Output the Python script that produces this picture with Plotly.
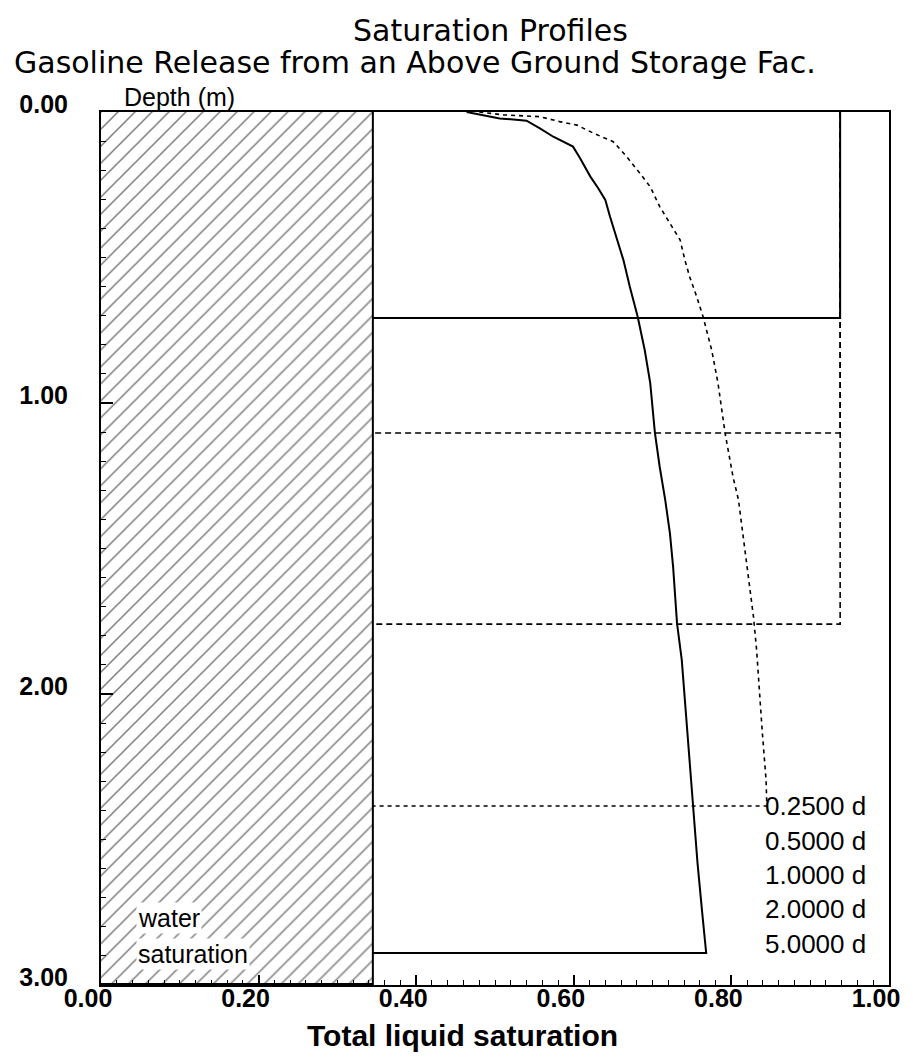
import plotly.graph_objects as go

# ---- data ----
water_saturation = 0.345
max_depth = 3.0
time_labels = ["0.2500 d", "0.5000 d", "1.0000 d", "2.0000 d", "5.0000 d"]

# early profiles: saturated plateau down to the wetting front
plateau_sat = 0.938
front_025 = 0.708
front_050 = 1.103
front_100 = 1.760

# 2.0 d profile (drainage curve)
t2_sat = [0.480, 0.511, 0.557, 0.582, 0.604, 0.625, 0.650, 0.667, 0.684, 0.697,
          0.709, 0.722, 0.735, 0.741, 0.747, 0.756, 0.764, 0.775, 0.783, 0.792,
          0.802, 0.809, 0.815, 0.821, 0.828, 0.832, 0.836, 0.839, 0.844, 0.845]
t2_depth = [0.000, 0.010, 0.016, 0.033, 0.045, 0.073, 0.102, 0.153, 0.211, 0.257,
            0.325, 0.383, 0.440, 0.509, 0.566, 0.635, 0.703, 0.818, 0.932, 1.104,
            1.253, 1.333, 1.459, 1.597, 1.734, 1.849, 2.021, 2.124, 2.296, 2.385]

# 5.0 d profile (drainage curve)
t5_sat = [0.464, 0.485, 0.506, 0.540, 0.557, 0.574, 0.599, 0.608, 0.621, 0.631,
          0.640, 0.646, 0.654, 0.663, 0.671, 0.681, 0.690, 0.697, 0.703, 0.709,
          0.716, 0.722, 0.726, 0.731, 0.737, 0.741, 0.745, 0.751, 0.757, 0.763, 0.768]
t5_depth = [0.000, 0.010, 0.022, 0.030, 0.056, 0.085, 0.119, 0.159, 0.222, 0.262,
            0.302, 0.360, 0.428, 0.509, 0.600, 0.703, 0.818, 0.932, 1.104, 1.219,
            1.333, 1.448, 1.562, 1.757, 1.883, 2.021, 2.181, 2.387, 2.581, 2.753, 2.890]

x_ticks = [0.0, 0.2, 0.4, 0.6, 0.8, 1.0]
x_ticktext = ["0.00", "0.20", "0.40", "0.60", "0.80", "1.00"]
y_ticks = [0.0, 1.0, 2.0, 3.0]
y_ticktext = ["0.00", "1.00", "2.00", "3.00"]

# plot-area geometry in page pixels (the page body adds an 8 px margin)
OFF = 8
L, R, T, B = 101, 889, 112, 985
W, H = 913, 1057

fig = go.Figure()

# hatched water saturation region
fig.add_trace(go.Scatter(
    x=[0, water_saturation, water_saturation, 0, 0],
    y=[0, 0, max_depth, max_depth, 0],
    mode="lines", fill="toself",
    line=dict(color="black", width=0),
    fillcolor="white",
    fillpattern=dict(shape="/", size=12, solidity=0.13, fgcolor="black", bgcolor="white"),
    hoverinfo="skip", showlegend=False))
fig.add_trace(go.Scatter(
    x=[water_saturation, water_saturation], y=[0, max_depth],
    mode="lines", line=dict(color="black", width=2), showlegend=False, hoverinfo="skip"))
fig.add_trace(go.Scatter(
    x=[0, water_saturation], y=[max_depth, max_depth],
    mode="lines", line=dict(color="black", width=4), showlegend=False, hoverinfo="skip"))


def profile(xs, ys):
    return list(xs) + [water_saturation], list(ys) + [ys[-1]]


# 1.0 d
x, y = profile([plateau_sat, plateau_sat], [0, front_100])
fig.add_trace(go.Scatter(x=x, y=y, mode="lines", name=time_labels[2],
                         line=dict(color="black", width=1.6, dash="6px,4px")))
# 0.5 d
x, y = profile([plateau_sat, plateau_sat], [0, front_050])
fig.add_trace(go.Scatter(x=x, y=y, mode="lines", name=time_labels[1],
                         line=dict(color="black", width=1.6, dash="6px,4px")))
# 2.0 d
x, y = profile(t2_sat, t2_depth)
fig.add_trace(go.Scatter(x=x, y=y, mode="lines", name=time_labels[3],
                         line=dict(color="black", width=1.6, dash="4px,4px")))
# 0.25 d
x, y = profile([plateau_sat, plateau_sat], [0, front_025])
fig.add_trace(go.Scatter(x=x, y=y, mode="lines", name=time_labels[0],
                         line=dict(color="black", width=2)))
# 5.0 d
x, y = profile(t5_sat, t5_depth)
fig.add_trace(go.Scatter(x=x, y=y, mode="lines", name=time_labels[4],
                         line=dict(color="black", width=2)))

# time labels (legend without line samples)
label_x = 0.844
label_y0 = 2.385
label_step = 0.1185
for i, lab in enumerate(time_labels):
    fig.add_annotation(x=label_x, y=label_y0 + i * label_step, text=lab,
                       showarrow=False, xanchor="left", yanchor="middle",
                       font=dict(family="Liberation Sans, Arial", size=26, color="black"),
                       xshift=-3)

# water saturation text
fig.add_annotation(x=0.045, y=2.77, text="water", showarrow=False, xanchor="left",
                   yanchor="middle", bgcolor="white", borderpad=1,
                   font=dict(family="Liberation Sans, Arial", size=25, color="black"))
fig.add_annotation(x=0.045, y=2.893, text="saturation", showarrow=False, xanchor="left",
                   yanchor="middle", bgcolor="white", borderpad=1,
                   font=dict(family="Liberation Sans, Arial", size=25, color="black"))

# titles
title_font = dict(family="DejaVu Sans", size=30, color="black")
fig.add_annotation(xref="paper", yref="paper", x=(490 - L) / (R - L), y=1,
                   yshift=T - 30, text="Saturation Profiles", showarrow=False,
                   xanchor="center", yanchor="middle", font=title_font)
fig.add_annotation(xref="paper", yref="paper", x=(415 - L) / (R - L), y=1,
                   yshift=T - 62, text="Gasoline Release from an Above Ground Storage Fac.",
                   showarrow=False, xanchor="center", yanchor="middle", font=title_font)
fig.add_annotation(xref="paper", yref="paper", x=(122 - L) / (R - L), y=1,
                   yshift=T - 97, text="Depth (m)", showarrow=False,
                   xanchor="left", yanchor="middle",
                   font=dict(family="Liberation Sans, Arial", size=25, color="black"))
fig.add_annotation(xref="paper", yref="paper", x=(462 - L) / (R - L), y=0,
                   yshift=-(1035 - B), text="<b>Total liquid saturation</b>", showarrow=False,
                   xanchor="center", yanchor="middle",
                   font=dict(family="Liberation Sans, Arial", size=30, color="black"))

fig.update_layout(
    width=W, height=H,
    margin=dict(l=L - OFF, r=W - (R - OFF), t=T - OFF, b=H - (B - OFF), autoexpand=False),
    paper_bgcolor="white", plot_bgcolor="white",
    showlegend=False,
    xaxis=dict(range=[0, 1], tickvals=x_ticks, ticktext=x_ticktext, automargin=False,
               ticks="inside", ticklen=10, tickwidth=1.5, tickcolor="black",
               showline=True, linecolor="black", linewidth=2, mirror=True,
               showgrid=False, zeroline=False, ticklabelshift=-13, ticklabelstandoff=-10,
               tickfont=dict(family="Liberation Sans, Arial", size=25, color="black", weight="bold"),
               minor=dict(dtick=0.02, ticks="inside", ticklen=5, tickcolor="black", tickwidth=1.2)),
    yaxis=dict(range=[3, 0], tickvals=y_ticks, ticktext=y_ticktext, automargin=False,
               ticks="inside", ticklen=12, tickwidth=1.5, tickcolor="black",
               showline=True, linecolor="black", linewidth=2, mirror=True,
               showgrid=False, zeroline=False, ticklabelstandoff=26, ticklabelshift=8,
               tickfont=dict(family="Liberation Sans, Arial", size=25, color="black", weight="bold"),
               minor=dict(dtick=0.1, ticks="inside", ticklen=5, tickcolor="black", tickwidth=1.2)),
)

fig.write_html("out.html")
